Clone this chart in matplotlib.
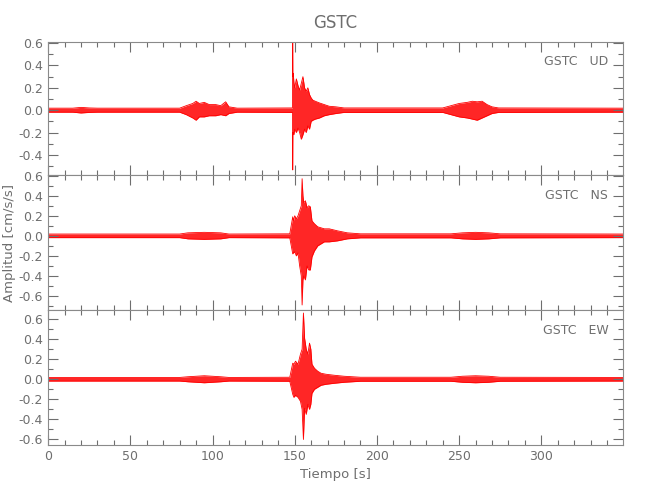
import matplotlib
matplotlib.use('Agg')
import matplotlib.pyplot as plt
from matplotlib.ticker import MultipleLocator

# estacion y componentes
estacion = 'GSTC'
componentes = ['UD', 'NS', 'EW']

# envolvente de cada traza (tiempo [s], maximo y minimo [cm/s/s])
t_ud = [0, 15, 20, 25, 30, 80, 84, 88, 90, 92, 95, 98, 102, 105, 108, 110, 115,
        148.6, 148.8, 148.9, 149.1, 149.5, 150, 151, 152, 153, 154, 155, 156, 157,
        158, 159, 160, 161, 162.5, 165, 168, 171, 175, 180,
        240, 245, 250, 255, 258, 261, 264, 267, 270, 274, 350]
hi_ud = [.018, .018, .025, .02, .018, .018, .04, .06, .08, .06, .07, .05, .05, .04, .075, .03, .018,
         .02, .6, .3, .33, .25, .2, .28, .22, .18, .24, .3, .2, .17,
         .2, .14, .11, .09, .08, .065, .05, .035, .03, .02,
         .02, .04, .06, .07, .08, .075, .08, .05, .03, .02, .018]
lo_ud = [-.018, -.018, -.025, -.02, -.018, -.018, -.04, -.07, -.09, -.06, -.06, -.05, -.05, -.04, -.05, -.03, -.018,
         -.02, -.535, -.2, -.2, -.22, -.17, -.2, -.16, -.2, -.26, -.22, -.17, -.2,
         -.14, -.17, -.1, -.09, -.08, -.07, -.05, -.04, -.03, -.02,
         -.02, -.04, -.06, -.07, -.08, -.09, -.07, -.05, -.03, -.02, -.018]

t_ns = [0, 80, 85, 95, 105, 110, 147, 148.8, 149.2, 150, 151, 152, 153, 154, 154.5,
        155, 155.5, 156.5, 157.5, 158.5, 159.5, 160.5, 162, 164, 166, 168, 171,
        176, 182, 190, 245, 252, 260, 268, 275, 350]
hi_ns = [.018, .018, .03, .035, .03, .018, .02, .19, .15, .2, .17, .2, .25, .3, .57,
         .4, .33, .35, .28, .3, .29, .15, .12, .09, .08, .07, .07,
         .05, .03, .02, .02, .03, .035, .03, .02, .018]
lo_ns = [-.018, -.018, -.03, -.035, -.03, -.018, -.02, -.18, -.17, -.16, -.2, -.17, -.3, -.4, -.69,
         -.44, -.4, -.44, -.3, -.34, -.34, -.21, -.15, -.1, -.08, -.06, -.06,
         -.05, -.03, -.02, -.02, -.03, -.035, -.03, -.02, -.018]

t_ew = [0, 80, 85, 95, 105, 110, 147, 148.8, 149.5, 150.5, 152, 153.5, 154.5, 155.3,
        156, 157, 158, 159, 159.8, 160.5, 162, 164, 166, 169, 174, 180, 190,
        245, 252, 260, 268, 275, 350]
hi_ew = [.018, .018, .025, .035, .025, .018, .02, .16, .15, .18, .15, .25, .3, .66,
         .41, .3, .25, .36, .3, .15, .11, .08, .06, .05, .04, .03, .02,
         .02, .03, .035, .03, .02, .018]
lo_ew = [-.018, -.018, -.025, -.035, -.025, -.018, -.02, -.15, -.18, -.16, -.18, -.22, -.3, -.6,
         -.29, -.35, -.25, -.3, -.25, -.14, -.1, -.08, -.06, -.05, -.04, -.03, -.02,
         -.02, -.03, -.035, -.03, -.02, -.018]

tiempos = [t_ud, t_ns, t_ew]
maximos = [hi_ud, hi_ns, hi_ew]
minimos = [lo_ud, lo_ns, lo_ew]
limites = [(-0.58, 0.61), (-0.74, 0.607), (-0.655, 0.69)]
yticks = [-0.6, -0.4, -0.2, 0.0, 0.2, 0.4, 0.6]

gris = '#6e6e6e'

fig = plt.figure(figsize=(6.5, 5), dpi=100)
# posiciones de los tres paneles (sin espacio entre ellos)
posiciones = [[0.074, 0.65, 0.884, 0.266],
              [0.074, 0.38, 0.884, 0.27],
              [0.074, 0.11, 0.884, 0.27]]

for i in range(3):
    ax = fig.add_axes(posiciones[i])
    t, hi, lo = tiempos[i], maximos[i], minimos[i]
    ax.fill_between(t, lo, hi, color='red', alpha=0.85, lw=0)
    ax.plot(t, hi, color='red', lw=0.6)
    ax.plot(t, lo, color='red', lw=0.6)
    ax.set_xlim(0, 349.5)
    ax.set_ylim(*limites[i])
    ax.xaxis.set_major_locator(MultipleLocator(50))
    ax.xaxis.set_minor_locator(MultipleLocator(10))
    ax.set_yticks([v for v in yticks if limites[i][0] <= v <= limites[i][1]])
    ax.yaxis.set_minor_locator(MultipleLocator(0.1))
    ax.yaxis.set_major_formatter(plt.FuncFormatter(lambda v, p: '%.1f' % v if abs(v) > 1e-9 else '0.0'))
    ax.tick_params(which='both', direction='in', top=True, right=True, colors=gris,
                   labelsize=9, width=0.8)
    ax.tick_params(which='major', length=7)
    ax.tick_params(which='minor', length=3.5)
    for s in ax.spines.values():
        s.set_color('#8a8a8a')
        s.set_linewidth(0.8)
    ax.text(0.975, 0.85, estacion + '   ' + componentes[i], transform=ax.transAxes,
            ha='right', va='center', color=gris, fontsize=9)
    if i < 2:
        ax.set_xticklabels([])
    else:
        ax.set_xlabel('Tiempo [s]', color=gris, fontsize=9.5, labelpad=4)
    if i == 1:
        ax.set_ylabel('Amplitud [cm/s/s]', color=gris, fontsize=9.5, labelpad=2)

fig.text(0.516, 0.955, estacion, ha='center', va='center', color=gris, fontsize=12)

plt.savefig('out.png', dpi=100)
